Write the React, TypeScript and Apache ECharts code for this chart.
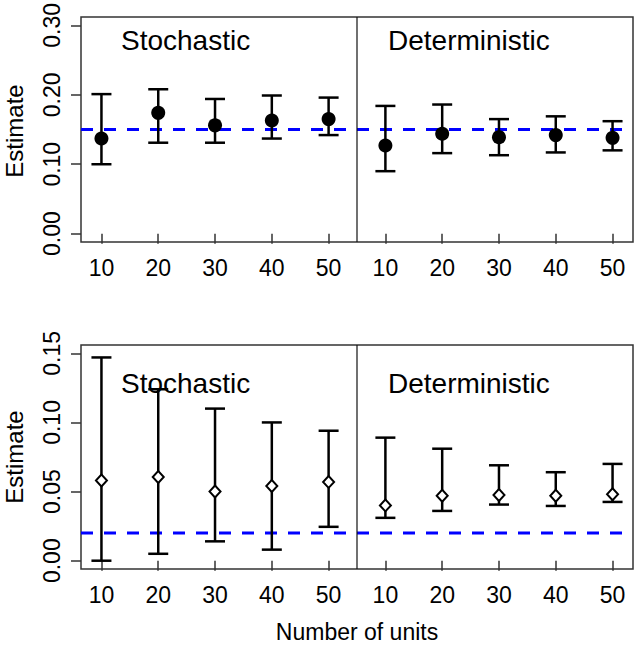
import React, { useEffect, useRef } from "react";
import * as echarts from "echarts";

const designs = ["Stochastic", "Deterministic"];
const units = [10, 20, 30, 40, 50];

// Top panel (filled circles)
const topStochEst = [0.137, 0.174, 0.156, 0.163, 0.165];
const topStochLo = [0.1, 0.131, 0.131, 0.137, 0.142];
const topStochHi = [0.201, 0.208, 0.194, 0.199, 0.196];
const topDetEst = [0.127, 0.144, 0.139, 0.142, 0.138];
const topDetLo = [0.09, 0.116, 0.113, 0.117, 0.12];
const topDetHi = [0.184, 0.186, 0.165, 0.169, 0.162];
const topTrue = 0.15;
const topYTicks = [0, 0.1, 0.2, 0.3];

// Bottom panel (open diamonds)
const botStochEst = [0.058, 0.0605, 0.05, 0.054, 0.057];
const botStochLo = [0.0, 0.005, 0.014, 0.008, 0.0245];
const botStochHi = [0.147, 0.124, 0.11, 0.1, 0.094];
const botDetEst = [0.04, 0.047, 0.0475, 0.047, 0.048];
const botDetLo = [0.031, 0.036, 0.0406, 0.0396, 0.0425];
const botDetHi = [0.089, 0.081, 0.069, 0.064, 0.07];
const botTrue = 0.02;
const botYTicks = [0, 0.05, 0.1, 0.15];

const FONT = "'Liberation Sans', Arial, Helvetica, sans-serif";

function positions() {
  const pos: number[] = [];
  const labels: string[] = [];
  designs.forEach((_, d) => units.forEach((u, i) => {
    pos.push(d * units.length + i + 1);
    labels.push(String(u));
  }));
  return { pos, labels };
}

function buildRows(est: number[][], lo: number[][], hi: number[][]) {
  const rows: number[][] = [];
  designs.forEach((_, d) => units.forEach((_, i) => {
    rows.push([d * units.length + i + 1, est[d][i], lo[d][i], hi[d][i]]);
  }));
  return rows;
}

export default function App() {
  const ref = useRef<HTMLDivElement>(null);
  useEffect(() => {
    document.body.style.margin = "0";
    const chart = echarts.init(ref.current!, null, { renderer: "svg" });
    const { pos, labels } = positions();
    const n = pos.length;
    const pad = (n - 1) * 0.04;
    const xmin = 1 - pad;
    const xmax = n + pad;
    const divider = units.length + 0.5;

    const topRows = buildRows([topStochEst, topDetEst], [topStochLo, topDetLo], [topStochHi, topDetHi]);
    const botRows = buildRows([botStochEst, botDetEst], [botStochLo, botDetLo], [botStochHi, botDetHi]);

    const topMin = 0 - 0.3 * 0.04, topMax = 0.3 + 0.3 * 0.04;
    const botMin = 0 - 0.15 * 0.04, botMax = 0.15 + 0.15 * 0.04;

    const xAxisBase = (gi: number) => ({
      type: "value" as const,
      gridIndex: gi,
      min: xmin,
      max: xmax,
      axisLine: { show: false },
      splitLine: { show: false },
      axisTick: {
        show: true, length: 10, customValues: pos,
        lineStyle: { color: "#333", width: 1.5 },
      },
      axisLabel: {
        customValues: pos,
        margin: 14,
        fontFamily: FONT, fontSize: 23, color: "#000",
        formatter: (v: number) => labels[Math.round(v) - 1] ?? "",
      },
    });
    const yAxisBase = (gi: number, mn: number, mx: number, ticks: number[]) => ({
      type: "value" as const,
      gridIndex: gi,
      min: mn,
      max: mx,
      axisLine: { show: false },
      splitLine: { show: false },
      axisTick: {
        show: true, length: 10, customValues: ticks,
        lineStyle: { color: "#333", width: 1.5 },
      },
      axisLabel: {
        customValues: ticks,
        rotate: 90,
        margin: 18,
        fontFamily: FONT, fontSize: 23, color: "#000",
        formatter: (v: number) => v.toFixed(2),
      },
    });

    const errRender = (params: any, api: any) => {
      const x = api.value(0);
      const lo = api.coord([x, api.value(2)]);
      const hi = api.coord([x, api.value(3)]);
      const w = 10;
      const style = { stroke: "#000", lineWidth: 2.5 };
      return {
        type: "group",
        children: [
          { type: "line", shape: { x1: lo[0], y1: lo[1], x2: hi[0], y2: hi[1] }, style },
          { type: "line", shape: { x1: lo[0] - w, y1: lo[1], x2: lo[0] + w, y2: lo[1] }, style },
          { type: "line", shape: { x1: hi[0] - w, y1: hi[1], x2: hi[0] + w, y2: hi[1] }, style },
        ],
      };
    };

    const panelSeries = (gi: number, rows: number[][], truth: number, mn: number, mx: number, filled: boolean) => [
      {
        type: "line", xAxisIndex: gi, yAxisIndex: gi, z: 1,
        data: [[xmin, truth], [xmax, truth]], symbol: "none",
        lineStyle: { color: "#0000ff", width: 3, type: [12, 11] },
        silent: true,
      },
      {
        type: "line", xAxisIndex: gi, yAxisIndex: gi, z: 1,
        data: [[divider, mn], [divider, mx]], symbol: "none",
        lineStyle: { color: "#111", width: 1.2 },
        silent: true,
      },
      {
        type: "custom", xAxisIndex: gi, yAxisIndex: gi, z: 2,
        data: rows, renderItem: errRender,
        encode: { x: 0, y: [2, 3] },
      },
      {
        type: "scatter", xAxisIndex: gi, yAxisIndex: gi, z: 3,
        data: rows.map((r) => [r[0], r[1]]),
        symbol: filled ? "circle" : "diamond",
        symbolSize: filled ? 14 : [11, 12],
        itemStyle: filled
          ? { color: "#000", opacity: 1 }
          : { color: "#fff", borderColor: "#000", borderWidth: 2, opacity: 1 },
      },
    ];

    const titleText = (txt: string, x: number, y: number) => ({
      type: "text", x, y,
      style: { text: txt, font: `28px ${FONT}`, fill: "#000", verticalAlign: "middle" },
    });

    chart.setOption({
      animation: false,
      grid: [
        { left: 81, top: 17, width: 552, height: 225, show: true, borderColor: "#333", borderWidth: 1.5, backgroundColor: "transparent" },
        { left: 81, top: 345, width: 552, height: 224, show: true, borderColor: "#333", borderWidth: 1.5, backgroundColor: "transparent" },
      ],
      xAxis: [xAxisBase(0), xAxisBase(1)],
      yAxis: [yAxisBase(0, topMin, topMax, topYTicks), yAxisBase(1, botMin, botMax, botYTicks)],
      series: [
        ...panelSeries(0, topRows, topTrue, topMin, topMax, true),
        ...panelSeries(1, botRows, botTrue, botMin, botMax, false),
      ],
      graphic: [
        titleText(designs[0], 121, 40),
        titleText(designs[1], 388, 40),
        titleText(designs[0], 121, 383),
        titleText(designs[1], 388, 383),
        {
          type: "text", x: 14, y: 131, rotation: Math.PI / 2,
          style: { text: "Estimate", font: `24px ${FONT}`, fill: "#000", align: "center", verticalAlign: "middle" },
        },
        {
          type: "text", x: 14, y: 457, rotation: Math.PI / 2,
          style: { text: "Estimate", font: `24px ${FONT}`, fill: "#000", align: "center", verticalAlign: "middle" },
        },
        {
          type: "text", x: 357, y: 632,
          style: { text: "Number of units", font: `23px ${FONT}`, fill: "#000", align: "center", verticalAlign: "middle" },
        },
      ],
    });
    return () => chart.dispose();
  }, []);
  return <div ref={ref} style={{ width: 638, height: 645 }} />;
}
